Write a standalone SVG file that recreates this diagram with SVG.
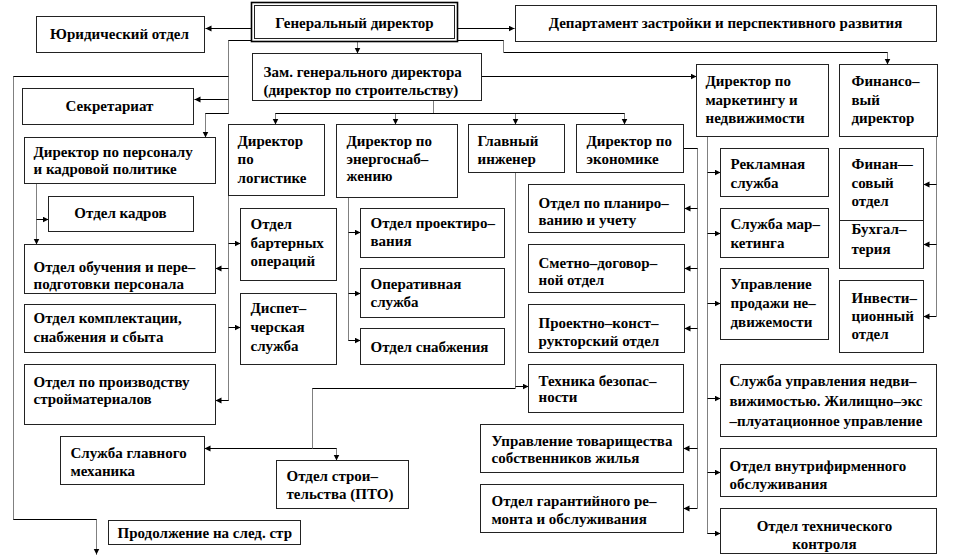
<svg xmlns="http://www.w3.org/2000/svg" width="960" height="559" viewBox="0 0 960 559">
<style>
.b{fill:#fff;stroke:#222;stroke-width:1}
.gb{fill:#fff;stroke:#000;stroke-width:1.6}
text{font-family:"Liberation Serif","Times New Roman",serif;font-weight:bold;font-size:15px;fill:#000}
.c{text-anchor:middle}
.h{stroke:#000;stroke-width:1;fill:none}
.v{stroke:#000;stroke-width:1;stroke-dasharray:1 1;fill:none}
.a{marker-end:url(#ar)}
</style>
<defs>
<marker id="ar" markerUnits="userSpaceOnUse" markerWidth="7" markerHeight="7" refX="6" refY="3" orient="auto">
<path d="M0,0 L6,3 L0,6 z" fill="#000"/>
</marker>
</defs>
<rect width="960" height="559" fill="#fff"/>
<g transform="translate(0.5 0.5)">
<g id="connectors">
<!-- General director -->
<path class="h a" d="M251,28 H205"/>
<path class="h a" d="M457,28 H514"/>
<path class="v a" d="M357,41 V53"/>
<path class="h" d="M457,40 H503"/>
<path class="v" d="M503,40 V52"/>
<path class="h" d="M503,52 H887"/>
<path class="v a" d="M887,52 V64"/>
<path class="h" d="M251,40 H228"/>
<path class="v" d="M228,40 V113"/>
<path class="h" d="M13,76 H228"/>
<path class="v" d="M13,76 V519"/>
<path class="h" d="M13,519 H96"/>
<path class="v a" d="M96,519 V554"/>
<path class="h a" d="M228,99 H194"/>
<path class="h" d="M228,113 H205"/>
<path class="v a" d="M205,113 V137"/>
<!-- Deputy -->
<path class="h a" d="M481,76 H696"/>
<path class="v" d="M433,100 V113"/>
<path class="h" d="M275,113 H624"/>
<path class="v a" d="M275,113 V124"/>
<path class="v a" d="M395,113 V124"/>
<path class="v a" d="M515,113 V124"/>
<path class="v a" d="M624,113 V124"/>
<!-- Personnel -->
<path class="v a" d="M36,183 V244"/>
<path class="h a" d="M36,219 H48"/>
<!-- Logistics -->
<path class="v" d="M228,195 V400"/>
<path class="h a" d="M228,243 H240"/>
<path class="h a" d="M228,268 H215"/>
<path class="h a" d="M228,327 H240"/>
<path class="h a" d="M228,400 H215"/>
<!-- Energy -->
<path class="v" d="M348,197 V340"/>
<path class="h a" d="M348,232 H360"/>
<path class="h a" d="M348,293 H360"/>
<path class="h a" d="M348,340 H360"/>
<!-- Chief engineer -->
<path class="v" d="M515,172 V388"/>
<path class="h a" d="M515,386 H528"/>
<path class="h" d="M515,388 H312"/>
<path class="v" d="M312,388 V448"/>
<path class="h a" d="M312,448 H204"/>
<path class="h" d="M312,448 H336"/>
<path class="v a" d="M336,448 V460"/>
<!-- Economics -->
<path class="h" d="M683,148 H697"/>
<path class="v" d="M697,148 V508"/>
<path class="h a" d="M697,208 H684"/>
<path class="h a" d="M697,268 H684"/>
<path class="h a" d="M697,328 H684"/>
<path class="h a" d="M697,448 H683"/>
<path class="h a" d="M697,508 H683"/>
<!-- Marketing -->
<path class="v" d="M707,136 V533"/>
<path class="h a" d="M707,172 H720"/>
<path class="h a" d="M707,233 H720"/>
<path class="h a" d="M707,303 H720"/>
<path class="h a" d="M707,398 H720"/>
<path class="h a" d="M707,472 H720"/>
<path class="h a" d="M707,533 H720"/>
<!-- Finance -->
<path class="v" d="M936,136 V316"/>
<path class="h a" d="M936,184 H923"/>
<path class="h a" d="M936,244 H923"/>
<path class="h a" d="M936,316 H923"/>
</g>

<g id="gen"><rect class="gb" x="251" y="2" width="206" height="39"/><rect class="b" x="254" y="5" width="200" height="33"/><text class="c" x="354" y="27">Генеральный директор</text></g>
<g id="jur"><rect class="b" x="36" y="16" width="168" height="36"/><text class="c" x="119" y="38">Юридический отдел</text></g>
<g id="dept"><rect class="b" x="515" y="5" width="421" height="36"/><text class="c" x="725" y="27">Департамент застройки и перспективного развития</text></g>
<g id="zam"><rect class="b" x="252" y="53" width="229" height="47"/><text x="263" y="76">Зам. генерального директора<tspan x="263" y="94">(директор по строительству)</tspan></text></g>
<g id="secr"><rect class="b" x="22" y="88" width="171" height="36"/><text class="c" x="109" y="110">Секретариат</text></g>
<g id="pers"><rect class="b" x="24" y="137" width="191" height="46"/><text x="33" y="156">Директор по персоналу<tspan x="33" y="173">и кадровой политике</tspan></text></g>
<g id="kadr"><rect class="b" x="48" y="196" width="145" height="35"/><text class="c" x="120" y="217">Отдел кадров</text></g>
<g id="obuch"><rect class="b" x="24" y="244" width="191" height="49"/><text x="33" y="271">Отдел обучения и пере–<tspan x="33" y="288">подготовки персонала</tspan></text></g>
<g id="kompl"><rect class="b" x="24" y="304" width="191" height="48"/><text x="33" y="322">Отдел комплектации,<tspan x="33" y="341">снабжения и сбыта</tspan></text></g>
<g id="proizv"><rect class="b" x="24" y="364" width="191" height="60"/><text x="33" y="386">Отдел по производству<tspan x="33" y="403">стройматериалов</tspan></text></g>
<g id="mech"><rect class="b" x="60" y="436" width="144" height="48"/><text x="70" y="457">Служба главного<tspan x="70" y="475">механика</tspan></text></g>
<g id="pto"><rect class="b" x="276" y="460" width="132" height="48"/><text x="286" y="480">Отдел строи–<tspan x="286" y="498">тельства (ПТО)</tspan></text></g>
<g id="prod"><rect class="b" x="108" y="520" width="192" height="24"/><text x="117" y="537">Продолжение на след. стр</text></g>
<g id="logist"><rect class="b" x="228" y="124" width="96" height="71"/><text x="237" y="145">Директор<tspan x="237" y="163">по</tspan><tspan x="237" y="182">логистике</tspan></text></g>
<g id="barter"><rect class="b" x="240" y="208" width="96" height="72"/><text x="250" y="228">Отдел<tspan x="250" y="247">бартерных</tspan><tspan x="250" y="265">операций</tspan></text></g>
<g id="disp"><rect class="b" x="240" y="293" width="96" height="71"/><text x="250" y="312">Диспет–<tspan x="250" y="331">черская</tspan><tspan x="250" y="350">служба</tspan></text></g>
<g id="energo"><rect class="b" x="336" y="124" width="121" height="73"/><text x="346" y="145">Директор по<tspan x="346" y="163">энергоснаб–</tspan><tspan x="346" y="180">жению</tspan></text></g>
<g id="proekt"><rect class="b" x="360" y="208" width="144" height="49"/><text x="370" y="227">Отдел проектиро–<tspan x="370" y="245">вания</tspan></text></g>
<g id="operat"><rect class="b" x="360" y="268" width="144" height="49"/><text x="370" y="288">Оперативная<tspan x="370" y="306">служба</tspan></text></g>
<g id="snab"><rect class="b" x="360" y="328" width="144" height="36"/><text x="370" y="351">Отдел снабжения</text></g>
<g id="glinzh"><rect class="b" x="468" y="124" width="96" height="48"/><text x="477" y="145">Главный<tspan x="477" y="163">инженер</tspan></text></g>
<g id="econ"><rect class="b" x="576" y="124" width="107" height="48"/><text x="586" y="145">Директор по<tspan x="586" y="163">экономике</tspan></text></g>
<g id="plan"><rect class="b" x="528" y="184" width="156" height="48"/><text x="538" y="207">Отдел по планиро–<tspan x="538" y="224">ванию и учету</tspan></text></g>
<g id="smetn"><rect class="b" x="528" y="244" width="156" height="48"/><text x="538" y="267">Сметно–договор–<tspan x="538" y="284">ной отдел</tspan></text></g>
<g id="proektk"><rect class="b" x="528" y="304" width="156" height="48"/><text x="538" y="327">Проектно–конст–<tspan x="538" y="345">рукторский отдел</tspan></text></g>
<g id="tehbez"><rect class="b" x="528" y="364" width="155" height="48"/><text x="538" y="385">Техника безопас–<tspan x="538" y="401">ности</tspan></text></g>
<g id="tszh"><rect class="b" x="480" y="424" width="203" height="48"/><text x="491" y="445">Управление товарищества<tspan x="491" y="462">собственников жилья</tspan></text></g>
<g id="garant"><rect class="b" x="480" y="484" width="203" height="48"/><text x="491" y="505">Отдел гарантийного ре–<tspan x="491" y="523">монта и обслуживания</tspan></text></g>
<g id="market"><rect class="b" x="696" y="64" width="132" height="72"/><text x="705" y="85">Директор по<tspan x="705" y="104">маркетингу и</tspan><tspan x="705" y="122">недвижимости</tspan></text></g>
<g id="findir"><rect class="b" x="839" y="64" width="98" height="72"/><text x="851" y="85">Финансо–<tspan x="851" y="104">вый</tspan><tspan x="851" y="122">директор</tspan></text></g>
<g id="reklam"><rect class="b" x="720" y="148" width="108" height="48"/><text x="730" y="168">Рекламная<tspan x="730" y="187">служба</tspan></text></g>
<g id="servmark"><rect class="b" x="720" y="208" width="108" height="49"/><text x="730" y="228">Служба мар–<tspan x="730" y="247">кетинга</tspan></text></g>
<g id="prodazh"><rect class="b" x="720" y="268" width="108" height="71"/><text x="730" y="288">Управление<tspan x="730" y="307">продажи не–</tspan><tspan x="730" y="326">движемости</tspan></text></g>
<g id="finotd"><rect class="b" x="839" y="148" width="84" height="72"/><text x="851" y="168">Финан—<tspan x="851" y="187">совый</tspan><tspan x="851" y="205">отдел</tspan></text></g>
<g id="buh"><rect class="b" x="839" y="220" width="84" height="48"/><text x="851" y="233">Бухгал–<tspan x="851" y="253">терия</tspan></text></g>
<g id="invest"><rect class="b" x="839" y="280" width="84" height="72"/><text x="851" y="302">Инвести–<tspan x="851" y="320">ционный</tspan><tspan x="851" y="338">отдел</tspan></text></g>
<g id="uprned"><rect class="b" x="720" y="364" width="216" height="72"/><text x="729" y="385">Служба управления недви–<tspan x="729" y="405">вижимостью. Жилищно–экс</tspan><tspan x="729" y="425">–плуатационное управление</tspan></text></g>
<g id="vnutr"><rect class="b" x="720" y="448" width="216" height="48"/><text x="729" y="470">Отдел внутрифирменного<tspan x="729" y="488">обслуживания</tspan></text></g>
<g id="tehkontr"><rect class="b" x="720" y="508" width="216" height="45"/><text class="c" x="824" y="530">Отдел технического<tspan x="824" y="548">контроля</tspan></text></g>
</g>
</svg>
